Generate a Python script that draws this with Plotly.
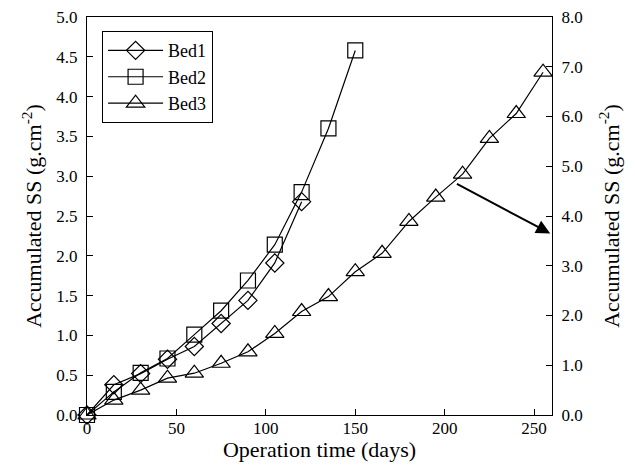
import plotly.graph_objects as go

days_bed1 = [0, 15, 30, 45, 60, 75, 90, 105, 120]
ss_bed1 = [0.0, 0.38, 0.52, 0.70, 0.86, 1.15, 1.44, 1.91, 2.68]

days_bed2 = [0, 15, 30, 45, 60, 75, 90, 105, 120, 135, 150]
ss_bed2 = [0.0, 0.29, 0.53, 0.71, 1.01, 1.31, 1.69, 2.14, 2.80, 3.60, 4.58]

days_bed3 = [0, 15, 30, 45, 60, 75, 90, 105, 120, 135, 150, 165, 180, 195, 210, 225, 240, 255]
ss_bed3 = [0.0, 0.30, 0.50, 0.74, 0.84, 1.04, 1.27, 1.64, 2.08, 2.38, 2.88, 3.25, 3.89, 4.38, 4.84, 5.56, 6.06, 6.89]

arrow_start = (206, 4.66)
arrow_end = (259, 3.65)

FONT = "Liberation Serif, Times New Roman, serif"

fig = go.Figure()
fig.add_trace(go.Scatter(x=days_bed1, y=ss_bed1, name="Bed1", mode="lines+markers", legendgroup="a",
                         line=dict(color="black", width=1.2),
                         marker=dict(symbol="diamond-open", size=14, color="black", line=dict(width=1.2)),
                         cliponaxis=False))
fig.add_trace(go.Scatter(x=days_bed2, y=ss_bed2, name="Bed2", mode="lines+markers", legendgroup="b",
                         line=dict(color="black", width=1.2),
                         marker=dict(symbol="square-open", size=15, color="black", line=dict(width=1.2)),
                         cliponaxis=False))
fig.add_trace(go.Scatter(x=days_bed3, y=ss_bed3, name="Bed3", mode="lines+markers", yaxis="y2", legendgroup="c",
                         line=dict(color="black", width=1.2),
                         marker=dict(symbol="triangle-up-open", size=16, color="black", line=dict(width=1.2)),
                         cliponaxis=False))

fig.add_annotation(x=arrow_end[0], y=arrow_end[1], ax=arrow_start[0], ay=arrow_start[1],
                   xref="x", yref="y2", axref="x", ayref="y2", text="", showarrow=True,
                   arrowhead=2, arrowsize=1.4, arrowwidth=2, arrowcolor="black")

axis_common = dict(showline=True, linecolor="black", linewidth=1.2, ticks="inside", ticklen=6,
                   tickcolor="black", showgrid=False, zeroline=False, automargin=False,
                   tickfont=dict(family=FONT, size=17, color="black"))

title_font = dict(family=FONT, size=22, color="black")

fig.update_layout(
    width=635, height=472,
    margin=dict(l=87, r=83, t=17, b=57),
    paper_bgcolor="white", plot_bgcolor="white",
    font=dict(family=FONT, size=16, color="black"),
    xaxis=dict(range=[0, 260], dtick=50, mirror=True, ticklabelstandoff=-3,
               title=dict(text="Operation time (days)", font=title_font, standoff=4),
               **axis_common),
    yaxis=dict(range=[0, 5], dtick=0.5, tickformat=".1f", ticklabelstandoff=5,
               title=dict(text="Accumulated SS (g.cm<sup>-2</sup>)", font=title_font, standoff=8),
               **axis_common),
    yaxis2=dict(range=[0, 8], dtick=1, tickformat=".1f", overlaying="y", side="right", ticklabelstandoff=5,
                title=dict(text="Accumulated SS (g.cm<sup>-2</sup>)", font=title_font, standoff=21),
                **axis_common),
    legend=dict(x=0.032, y=0.965, xanchor="left", yanchor="top", bordercolor="black", borderwidth=1.2,
                bgcolor="white", font=dict(family=FONT, size=18), traceorder="grouped", tracegroupgap=0,
                itemwidth=55),
    showlegend=True,
)

fig.write_html("out.html", config={"displayModeBar": False},
               post_script="document.body.style.margin='0px';")
